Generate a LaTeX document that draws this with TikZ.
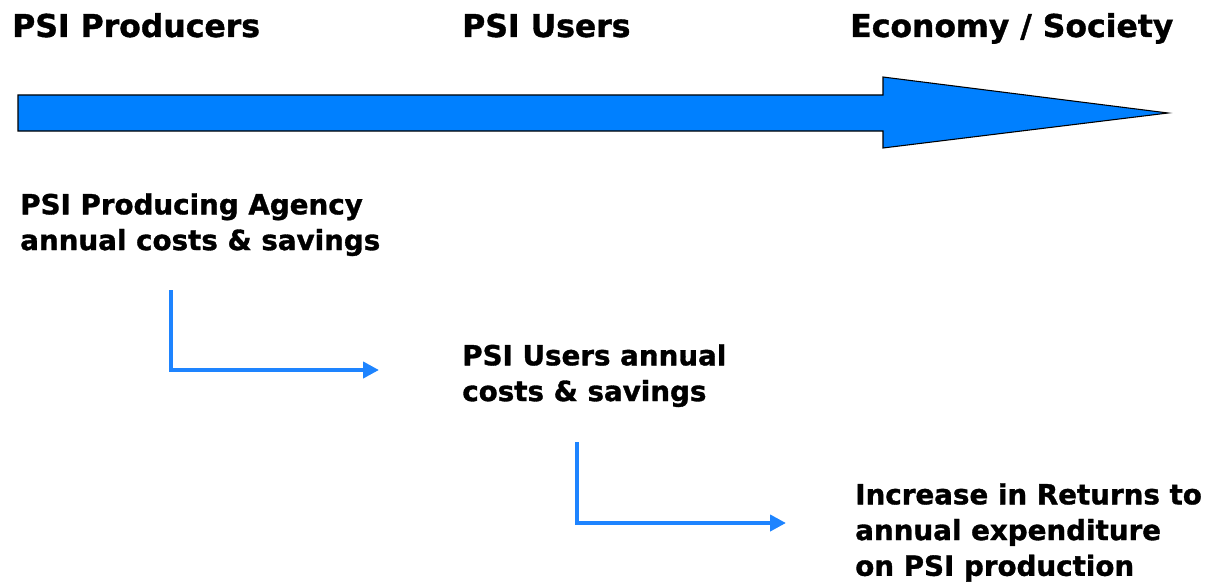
\documentclass[tikz,border=0pt]{standalone}
\usepackage{fontspec}
\setmainfont{DejaVu Sans}[BoldFeatures={FakeBold=1.2}]
\usetikzlibrary{arrows.meta}
\definecolor{psiblue}{RGB}{0,128,255}
\definecolor{flowblue}{RGB}{30,132,255}
\begin{document}
\begin{tikzpicture}[x=0.75pt,y=-0.75pt,
  hdr/.style={anchor=base west,inner sep=0pt,font=\bfseries\fontsize{23.6}{28}\selectfont},
  lbl/.style={anchor=north west,inner sep=0pt,align=left,font=\bfseries\fontsize{20.8}{26.8}\selectfont},
  flow/.style={draw=flowblue,line width=3.3pt,-{Triangle[length=12pt,width=12pt]}}]
\useasboundingbox (0,0) rectangle (1206,585);
% big arrow
\draw[fill=psiblue,line width=0.8pt] (18,95)--(883,95)--(883,77)--(1168,113)--(883,148)--(883,131)--(18,131)--cycle;
% headings
\node[hdr] (prod) at (12,37) {PSI Producers};
\node[hdr] (user) at (462,37) {PSI Users};
\node[hdr] (econ) at (850,37) {Economy / Society};
% boxes of text
\node[lbl] (agency) at (20,193) {PSI Producing Agency\\annual costs \& savings};
\node[lbl] (users) at (462,344) {PSI Users annual\\costs \& savings};
\node[lbl] (returns) at (855,483) {Increase in Returns to\\annual expenditure\\on PSI production};
% flows
\coordinate (a1) at (171,290);
\coordinate (b1) at (379,370);
\coordinate (a2) at (577,442);
\coordinate (b2) at (786,523);
\draw[flow] (a1) |- (b1);
\draw[flow] (a2) |- (b2);
\end{tikzpicture}
\end{document}
